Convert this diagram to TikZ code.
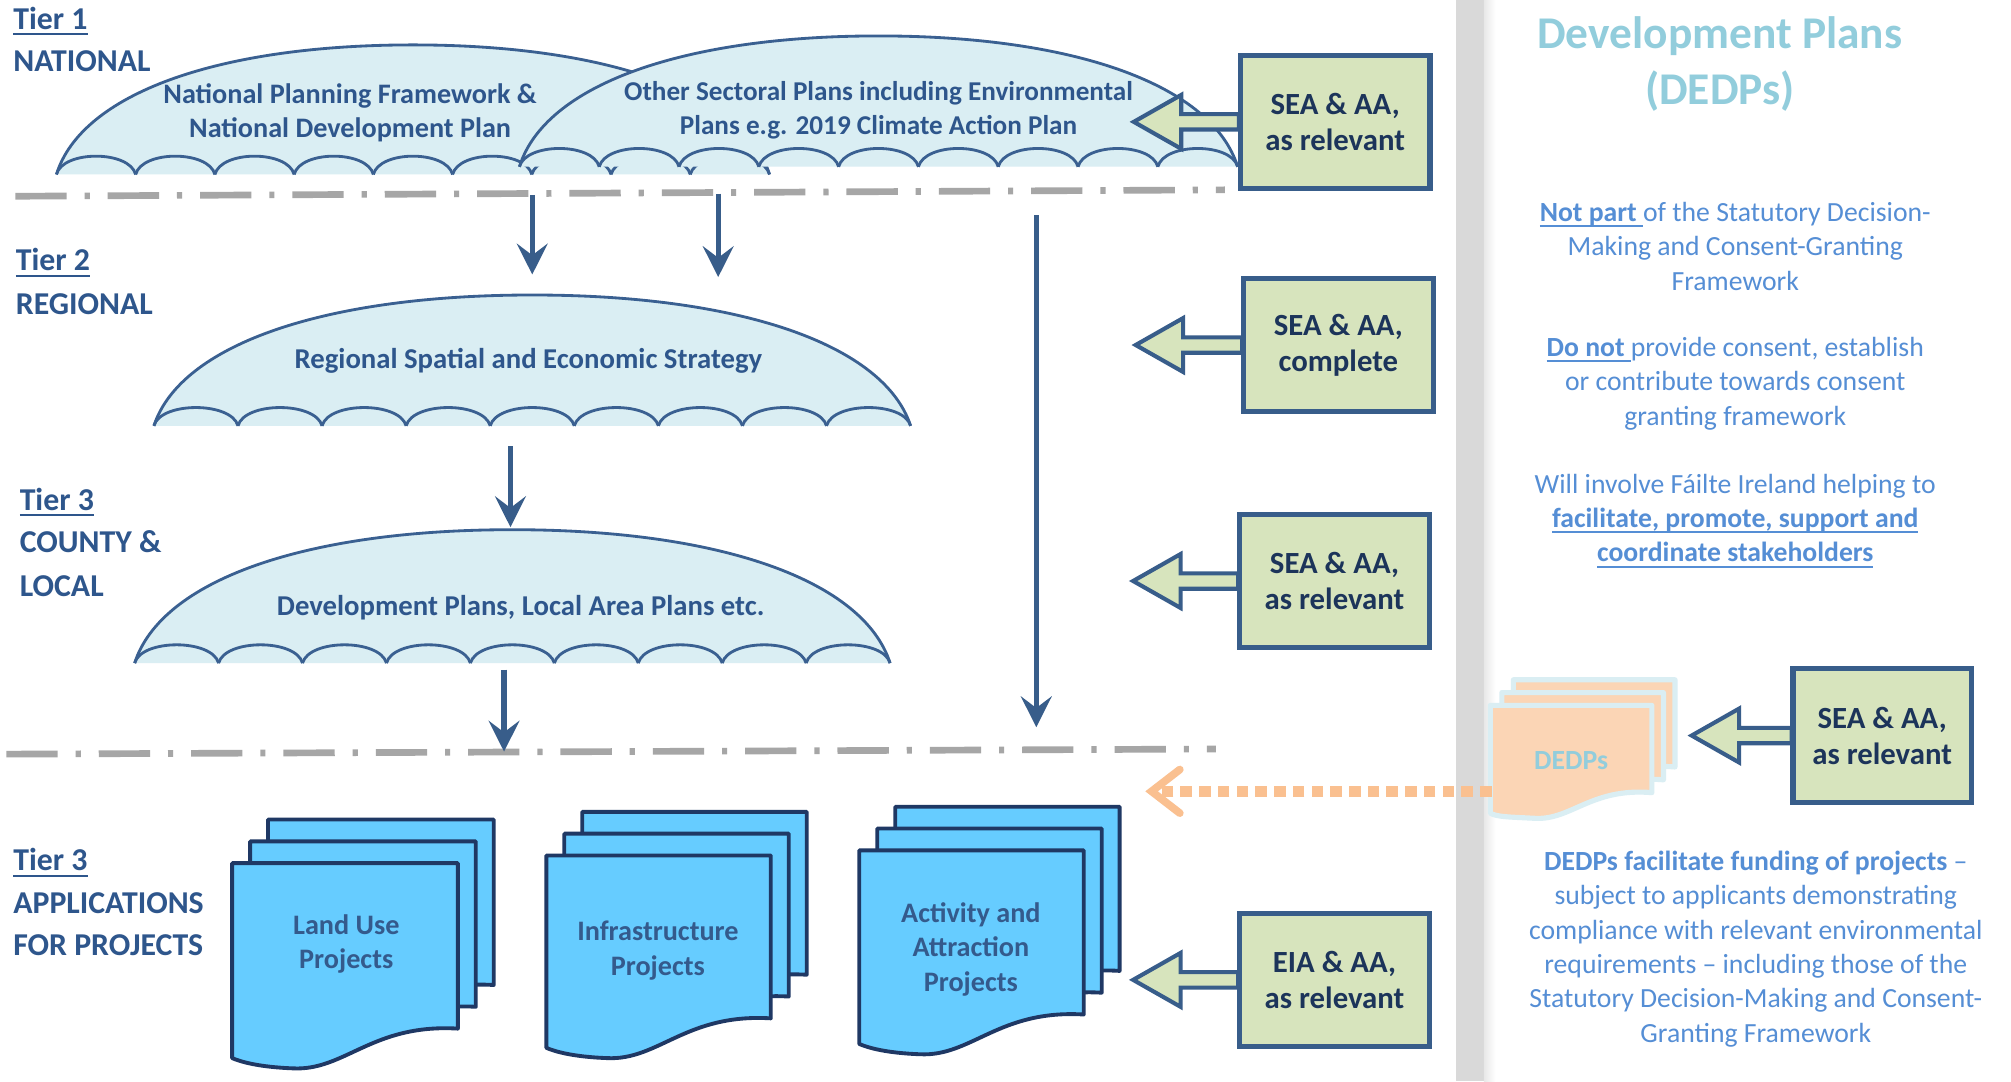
\documentclass[tikz,border=0pt]{standalone}
\usepackage{fontspec}
\setmainfont{Carlito}
\usetikzlibrary{arrows.meta,calc}
\definecolor{navy}{RGB}{56,93,138}
\definecolor{domefill}{RGB}{218,238,243}
\definecolor{domeline}{RGB}{58,96,145}
\definecolor{tiertext}{RGB}{46,86,140}
\definecolor{boxfill}{RGB}{215,228,189}
\definecolor{boxtext}{RGB}{28,52,90}
\definecolor{docfill}{RGB}{102,204,255}
\definecolor{docline}{RGB}{31,56,100}
\definecolor{doctext}{RGB}{52,90,140}
\definecolor{dashgray}{RGB}{166,166,166}
\definecolor{bargray}{RGB}{217,217,217}
\definecolor{peach}{RGB}{251,213,181}
\definecolor{peachline}{RGB}{218,238,243}
\definecolor{lightblue}{RGB}{146,205,220}
\definecolor{paneltext}{RGB}{85,142,213}
\definecolor{orangedot}{RGB}{250,192,144}
\newsavebox\ulbox
\newcommand\myul[1]{\sbox\ulbox{#1}\rlap{\rule[-2.3pt]{\wd\ulbox}{0.75pt}}\usebox\ulbox}
\newcommand\umbrella[5]{%
 \pgfmathsetmacro\ua{(#3-#2)/2}%
 \pgfmathsetmacro\um{(#2+#3)/2}%
 \pgfmathsetmacro\ut{#4-#5}%
 \pgfmathsetmacro\uc{\ut+0.38*#5}%
 \pgfmathsetmacro\uw{(#3-#2)/9}%
 \fill[domefill] (#2,#4) .. controls ({#2+0.07*\ua},\uc) and ({\um-0.55*\ua},\ut) .. (\um,\ut) .. controls ({\um+0.55*\ua},\ut) and ({#3-0.07*\ua},\uc) .. (#3,#4) -- cycle;
 \draw[domestroke] (#2,#4) .. controls ({#2+0.07*\ua},\uc) and ({\um-0.55*\ua},\ut) .. (\um,\ut) .. controls ({\um+0.55*\ua},\ut) and ({#3-0.07*\ua},\uc) .. (#3,#4);
 \foreach \i in {0,...,8}{\pgfmathsetmacro\ux{#2+\i*\uw}\draw[domestroke] (\ux,#4) .. controls ({\ux+0.08*\uw},{#4-19}) and ({\ux+0.92*\uw},{#4-19}) .. ({\ux+\uw},#4);}
 \coordinate (#1) at (\um,\ut);
}
\newcommand\docpage[7]{%
 \filldraw[#7] (#1,#2) -- ({#1+#3},#2) -- ({#1+#3},{#2+#4}) .. controls ({#1+0.62*#3},{#2+#4-4}) and ({#1+0.5*#3},{#2+#6+2}) .. ({#1+0.27*#3},{#2+#6}) .. controls ({#1+0.12*#3},{#2+#6-1}) and ({#1+0.04*#3},{#2+#5+3}) .. (#1,{#2+#5}) -- cycle;}
\newcommand\docstack[9]{%
 \docpage{#1+2*#7}{#2-2*#8}{#3}{#4}{#5}{#6}{#9}%
 \docpage{#1+#7}{#2-#8}{#3}{#4}{#5}{#6}{#9}%
 \docpage{#1}{#2}{#3}{#4}{#5}{#6}{#9}}
\newcommand\blockarrow[2]{%
 \filldraw[barrow] ($(#1.west)+(1,-6)$) -- ++({-(#2-37)},0) -- ++(0,-15) -- ++(-37,21) -- ++(37,21) -- ++(0,-15) -- ($(#1.west)+(1,6)$) -- cycle;}
\begin{document}
\begin{tikzpicture}[x=0.5pt,y=-0.5pt,
  domestroke/.style={draw=domeline,line width=1.1pt},
  tierline/.style={draw=dashgray,line width=2.6pt,dash pattern=on 20pt off 7pt on 2pt off 7pt},
  flow/.style={draw=navy,line width=2pt,-{Stealth[length=12pt,width=12pt,inset=4.5pt]}},
  sbox/.style={draw=navy,line width=2pt,fill=boxfill,minimum width=74pt,minimum height=52pt,inner sep=0pt,align=center,text=boxtext,font=\bfseries\fontsize{12}{14}\selectfont},
  barrow/.style={draw=navy,fill=boxfill,line width=1.6pt,line join=miter},
  tier/.style={anchor=base west,inner sep=0pt,text=tiertext,font=\bfseries\fontsize{12.4}{15}\selectfont},
  dometxt/.style={align=center,text=tiertext,inner sep=0pt,font=\bfseries\fontsize{11}{13.5}\selectfont},
  doc/.style={fill=docfill,draw=docline,line width=1.5pt,line join=round},
  doctxt/.style={align=center,text=doctext,inner sep=0pt,font=\bfseries\fontsize{11}{13.5}\selectfont},
  dedp/.style={fill=peach,draw=peachline,line width=2pt,line join=round},
  paneltxt/.style={align=center,text=paneltext,inner sep=0pt,font=\fontsize{10.8}{13.4}\selectfont},
  orangearrow/.style={draw=orangedot,line width=4.5pt,dash pattern=on 4.5pt off 2.8pt,-{Straight Barb[length=11pt,width=17pt,line width=3pt,line cap=round]}}
]
\useasboundingbox (0,0) rectangle (1568,843);
\fill[white] (0,0) rectangle (1568,843);
% separator bar
\fill[bargray] (1135,0) rectangle (1157,843);
\shade[left color=bargray!60,right color=white] (1157,0) rectangle (1166,843);

% tier lines
\coordinate (l1a) at (12,153); \coordinate (l1b) at (955,148);
\coordinate (l2a) at (5,588); \coordinate (l2b) at (948,584);
\draw[tierline] (l1a) -- (l1b);
\draw[tierline] (l2a) -- (l2b);

% umbrellas
\umbrella{natd}{44}{600}{136}{101}
\umbrella{othd}{405}{965}{130}{102}
\umbrella{regd}{120}{710}{332}{102}
\umbrella{ctyd}{105}{694}{517}{104}

\node[dometxt] (nat) at (273,88) {National Planning Framework \&\\National Development Plan};
\node[dometxt,font=\bfseries\fontsize{10.6}{13}\selectfont] (oth) at (685,86) {Other Sectoral Plans including Environmental\\Plans e.g. 2019 Climate Action Plan};
\node[dometxt,font=\bfseries\fontsize{11.2}{13.5}\selectfont] (reg) at (412,281) {Regional Spatial and Economic Strategy};
\node[dometxt,font=\bfseries\fontsize{11.2}{13.5}\selectfont] (cty) at (406,474) {Development Plans, Local Area Plans etc.};

% tier labels
\node[tier] (t1a) at (10,23) {\myul{Tier 1}};
\node[tier] (t1b) at (10,56) {NATIONAL};
\node[tier] (t2a) at (12,211) {\myul{Tier 2}};
\node[tier] (t2b) at (12,245) {REGIONAL};
\node[tier] (t3a) at (15,398) {\myul{Tier 3}};
\node[tier] (t3b) at (15,431) {COUNTY \&};
\node[tier] (t3c) at (15,465) {LOCAL};
\node[tier] (t4a) at (10,679) {\myul{Tier 3}};
\node[tier] (t4b) at (10,712) {APPLICATIONS};
\node[tier] (t4c) at (10,745) {FOR PROJECTS};

% flow arrows
\coordinate (a1s) at (415,152); \coordinate (a1e) at (415,214);
\coordinate (a2s) at (560,151); \coordinate (a2e) at (560,216);
\coordinate (a3s) at (808,168); \coordinate (a3e) at (808,567);
\coordinate (a4s) at (398,348); \coordinate (a4e) at (398,411);
\coordinate (a5s) at (393,522); \coordinate (a5e) at (393,586);
\draw[flow] (a1s) -- (a1e);
\draw[flow] (a2s) -- (a2e);
\draw[flow] (a3s) -- (a3e);
\draw[flow] (a4s) -- (a4e);
\draw[flow] (a5s) -- (a5e);

% assessment boxes
\node[sbox] (b1) at (1041,95) {SEA \& AA,\\as relevant};
\node[sbox] (b2) at (1043.5,269) {SEA \& AA,\\complete};
\node[sbox] (b3) at (1040.5,453) {SEA \& AA,\\as relevant};
\node[sbox] (b4) at (1040.5,764) {EIA \& AA,\\as relevant};
\node[sbox,minimum width=69.5pt,minimum height=52.5pt] (b5) at (1467.5,573.5) {SEA \& AA,\\as relevant};
\blockarrow{b1}{82}
\blockarrow{b2}{83}
\blockarrow{b3}{82}
\blockarrow{b4}{82}
\blockarrow{b5}{78}
\node[sbox] (b1) at (1041,95) {SEA \& AA,\\as relevant};
\node[sbox] (b2) at (1043.5,269) {SEA \& AA,\\complete};
\node[sbox] (b3) at (1040.5,453) {SEA \& AA,\\as relevant};
\node[sbox] (b4) at (1040.5,764) {EIA \& AA,\\as relevant};
\node[sbox,minimum width=69.5pt,minimum height=52.5pt] (b5) at (1467.5,573.5) {SEA \& AA,\\as relevant};

% project documents
\docstack{181}{673}{176}{129}{152}{160}{14}{17}{doc}
\docstack{426}{667}{175}{127}{150}{158}{14}{17}{doc}
\docstack{670}{663}{175}{128}{151}{159}{14}{17}{doc}
\node[doctxt] (lu) at (270,736) {Land Use\\Projects};
\node[doctxt] (inf) at (513,741) {Infrastructure\\Projects};
\node[doctxt] (act) at (757,740) {Activity and\\Attraction\\Projects};

% DEDPs
\docstack{1162}{550}{126}{68}{84}{88}{9}{10}{dedp}
\node[inner sep=0pt,text=lightblue,font=\bfseries\fontsize{10.8}{13}\selectfont] (dedps) at (1225,593) {DEDPs};
\coordinate (dedpL) at (1163,617); \coordinate (dedpT) at (893,617);
\draw[orangearrow] (dedpL) -- (dedpT);

% right panel text
\node[align=center,inner sep=0pt,text=lightblue,font=\bfseries\fontsize{17.7}{22}\selectfont] (title) at (1341,50) {Development Plans\\(DEDPs)};
\node[paneltxt] (np) at (1353,192) {\myul{\textbf{Not part }}of the Statutory Decision-\\Making and Consent-Granting\\Framework};
\node[paneltxt] (dn) at (1353,299) {\myul{\textbf{Do not }}provide consent, establish\\or contribute towards consent\\granting framework};
\node[paneltxt] (wi) at (1353,406) {Will involve Fáilte Ireland helping to\\\myul{\textbf{facilitate, promote, support and}}\\\myul{\textbf{coordinate stakeholders}}};
\node[paneltxt] (fund) at (1369,740) {\textbf{DEDPs facilitate funding of projects} –\\subject to applicants demonstrating\\compliance with relevant environmental\\requirements – including those of the\\Statutory Decision-Making and Consent-\\Granting Framework};
\end{tikzpicture}
\end{document}
